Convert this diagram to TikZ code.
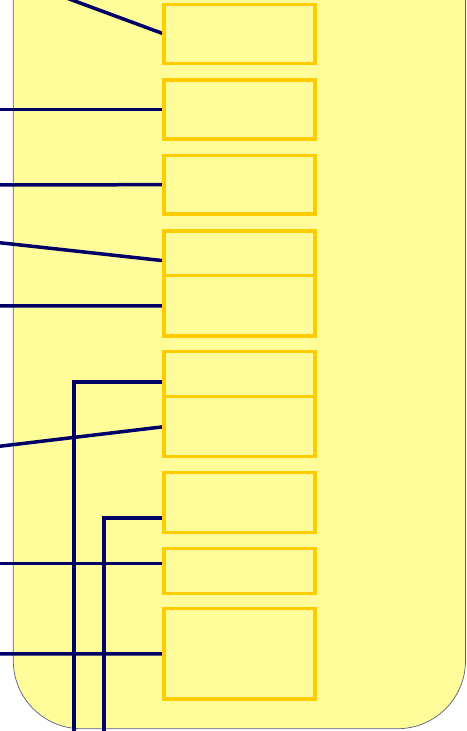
\documentclass[tikz,border=0pt]{standalone}
\definecolor{panel}{RGB}{255,253,153}
\definecolor{boxline}{RGB}{255,204,0}
\definecolor{navy}{RGB}{0,0,102}
\definecolor{edge}{RGB}{90,90,140}
\begin{document}
\begin{tikzpicture}[x=1pt,y=-1pt,
  box/.style={draw=none,inner sep=0pt,outer sep=0pt,anchor=north west,minimum width=151pt},
  boxedge/.style={draw=boxline,line width=3.5pt},
  wire/.style={draw=navy,line width=3.5pt},
  wirethick/.style={draw=navy,line width=4.2pt}]
\useasboundingbox (0,0) rectangle (466,731);
\clip (0,0) rectangle (466,731);
% panel
\fill[panel,rounded corners=68pt] (13.3,-120) -- (13.3,728.7) -- (465.5,728.7) -- (465.5,-120) -- cycle;
\draw[edge,line width=0.7pt,rounded corners=68pt] (13.3,-120) -- (13.3,728.7) -- (465.5,728.7) -- (465.5,-120);
% boxes (shapes give anchors; outlines drawn after the wires)
\path
  (164,4.3)   node[box,minimum height=59.4pt] (b1) {}
  (164,80)    node[box,minimum height=59pt]   (b2) {}
  (164,155.5) node[box,minimum height=58.3pt] (b3) {}
  (164,231)   node[box,minimum height=44.7pt] (b4) {}
  (164,275.7) node[box,minimum height=60.3pt] (b5) {}
  (164,351.7) node[box,minimum height=45pt]   (b6) {}
  (164,396.7) node[box,minimum height=60pt]   (b7) {}
  (164,472.7) node[box,minimum height=60pt]   (b8) {}
  (164,548.3) node[box,minimum height=45pt]   (b9) {}
  (164,608.7) node[box,minimum height=90.3pt] (b10) {};
% free ends
\coordinate (t1) at (58.5,-5);
\coordinate (l2) at (-5,109.5);
\coordinate (l3) at (-5,185);
\coordinate (l4) at (-5,242.2);
\coordinate (l5) at (-5,305.8);
\coordinate (v6) at (74.2,745);
\coordinate (l7) at (-5,446.8);
\coordinate (v8) at (104.3,745);
\coordinate (l9) at (-5,563.3);
\coordinate (l10) at (-5,653.9);
% wires
\draw[wire] (t1) -- (b1.west);
\draw[wire] (l2) -- (b2.west);
\draw[wire] (l3) -- (b3.west);
\draw[wire] (l4) -- ([yshift=-7.4pt]b4.west);
\draw[wire] (l5) -- (b5.west);
\draw[wire] (v6) |- ([yshift=-7.8pt]b6.west);
\draw[wire] (l7) -- (b7.west);
\draw[wirethick] (v8) |- ([yshift=-15.6pt]b8.west);
\draw[wire] (l9) -- ([yshift=7.5pt]b9.west);
\draw[wire] (l10) -- (b10.west);
% box outlines
\foreach \b in {b1,b2,b3,b4,b5,b6,b7,b8,b9,b10}
  \draw[boxedge] (\b.north west) rectangle (\b.south east);
\end{tikzpicture}
\end{document}
